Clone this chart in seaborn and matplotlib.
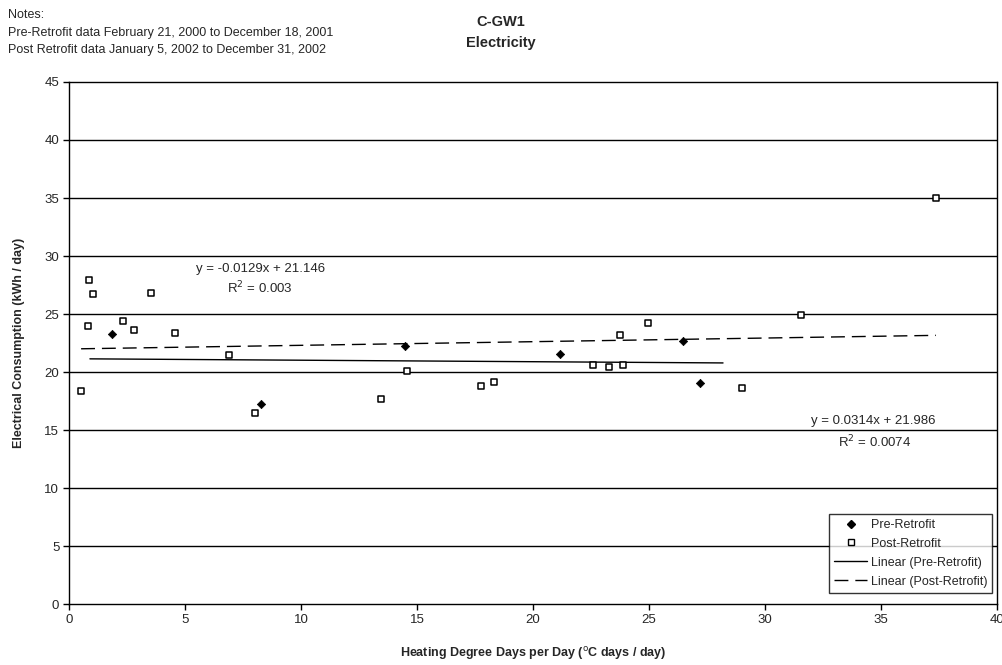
import matplotlib
matplotlib.use("Agg")
import matplotlib.pyplot as plt
from matplotlib.lines import Line2D
import numpy as np
import pandas as pd
import seaborn as sns

# Pre-retrofit observations (heating degree days per day, kWh/day)
pre_hdd = [1.87, 8.27, 14.5, 21.16, 26.49, 27.2]
pre_kwh = [23.3, 17.26, 22.28, 21.56, 22.63, 19.02]

# Post-retrofit observations
post_hdd = [0.86, 1.04, 3.53, 0.82, 2.32, 2.78, 4.55, 6.9, 0.52, 8.0,
            14.56, 13.45, 17.77, 18.33, 22.6, 23.3, 23.9, 23.75, 24.95,
            29.0, 31.55, 37.38]
post_kwh = [27.97, 26.75, 26.8, 23.96, 24.36, 23.64, 23.35, 21.5, 18.35, 16.5,
            20.06, 17.66, 18.82, 19.1, 20.63, 20.46, 20.58, 23.15, 24.24,
            18.6, 24.94, 35.0]

# Linear trend coefficients and spans
pre_slope, pre_icpt, pre_r2 = -0.0129, 21.146, 0.003
post_slope, post_icpt, post_r2 = 0.0314, 21.986, 0.0074
pre_span = [0.9, 28.2]
post_span = [0.52, 37.38]

x_ticks = [0, 5, 10, 15, 20, 25, 30, 35, 40]
y_ticks = [0, 5, 10, 15, 20, 25, 30, 35, 40, 45]

sns.set_style("white")
plt.rcParams["font.family"] = ["Liberation Sans", "DejaVu Sans"]

fig = plt.figure(figsize=(10.02, 6.65), dpi=100)
ax = fig.add_axes([0.0689, 0.0917, 0.9258, 0.785])

pre_df = pd.DataFrame({"hdd": pre_hdd, "kwh": pre_kwh})
post_df = pd.DataFrame({"hdd": post_hdd, "kwh": post_kwh})

# Horizontal gridlines
for yv in y_ticks[1:-1]:
    ax.axhline(yv, color="black", lw=1.0, zorder=1)

sns.scatterplot(data=post_df, x="hdd", y="kwh", ax=ax, marker="s", s=22,
                facecolor="white", edgecolor="black", linewidth=1.1, zorder=4)
sns.scatterplot(data=pre_df, x="hdd", y="kwh", ax=ax, marker="D", s=18,
                color="black", edgecolor="black", linewidth=0.5, zorder=5)

# Trend lines from their equations
xp = np.array(pre_span)
sns.lineplot(x=xp, y=pre_slope * xp + pre_icpt, ax=ax, color="black", lw=1.0, zorder=3)
xq = np.array(post_span)
sns.lineplot(x=xq, y=post_slope * xq + post_icpt, ax=ax, color="black", lw=1.0,
             linestyle=(0, (10, 5)), zorder=3)

ax.set_xlim(0, 40)
ax.set_ylim(0, 45)
ax.set_xticks(x_ticks)
ax.set_yticks(y_ticks)
ax.tick_params(axis="both", direction="out", length=4, width=1, color="black",
               labelsize=9.5, pad=3, left=True, bottom=True)
for sp in ax.spines.values():
    sp.set_color("black")
    sp.set_linewidth(1.0)

ax.set_xlabel("Heating Degree Days per Day ($^{\\rm o}$C days / day)",
              fontsize=9, fontweight="bold", labelpad=14)
ax.set_ylabel("Electrical Consumption (kWh / day)", fontsize=9,
              fontweight="bold", labelpad=14)

# Trend equations
ax.text(8.24, 28.86, f"y = {pre_slope}x + {pre_icpt}", ha="center", va="center", fontsize=9.5)
ax.text(8.24, 27.27, f"R$^2$ = {pre_r2}", ha="center", va="center", fontsize=9.5)
ax.text(34.68, 15.78, f"y = {post_slope}x + {post_icpt}", ha="center", va="center", fontsize=9.5)
ax.text(34.75, 14.0, f"R$^2$ = {post_r2}", ha="center", va="center", fontsize=9.5)

handles = [
    Line2D([], [], marker="D", color="black", ls="none", markersize=4),
    Line2D([], [], marker="s", markerfacecolor="white", markeredgecolor="black",
           ls="none", markersize=5),
    Line2D([], [], color="black", lw=1.0),
    Line2D([], [], color="black", lw=1.0, linestyle=(0, (10, 5))),
]
labels = ["Pre-Retrofit", "Post-Retrofit", "Linear (Pre-Retrofit)", "Linear (Post-Retrofit)"]
leg = ax.legend(handles, labels, loc="lower right", bbox_to_anchor=(0.995, 0.022),
                borderaxespad=0, fontsize=9, frameon=True, fancybox=False,
                edgecolor="black", handlelength=2.6, handletextpad=0.3,
                labelspacing=0.55, borderpad=0.4)
leg.get_frame().set_linewidth(1.0)
leg.set_zorder(10)

fig.text(0.008, 0.977, "Notes:", fontsize=9, va="center", ha="left")
fig.text(0.008, 0.950, "Pre-Retrofit data February 21, 2000 to December 18, 2001",
         fontsize=9, va="center", ha="left")
fig.text(0.008, 0.925, "Post Retrofit data January 5, 2002 to December 31, 2002",
         fontsize=9, va="center", ha="left")
fig.text(0.50, 0.967, "C-GW1", fontsize=10.5, fontweight="bold", ha="center", va="center")
fig.text(0.50, 0.935, "Electricity", fontsize=10.5, fontweight="bold", ha="center", va="center")

fig.savefig("out.png", dpi=100)
